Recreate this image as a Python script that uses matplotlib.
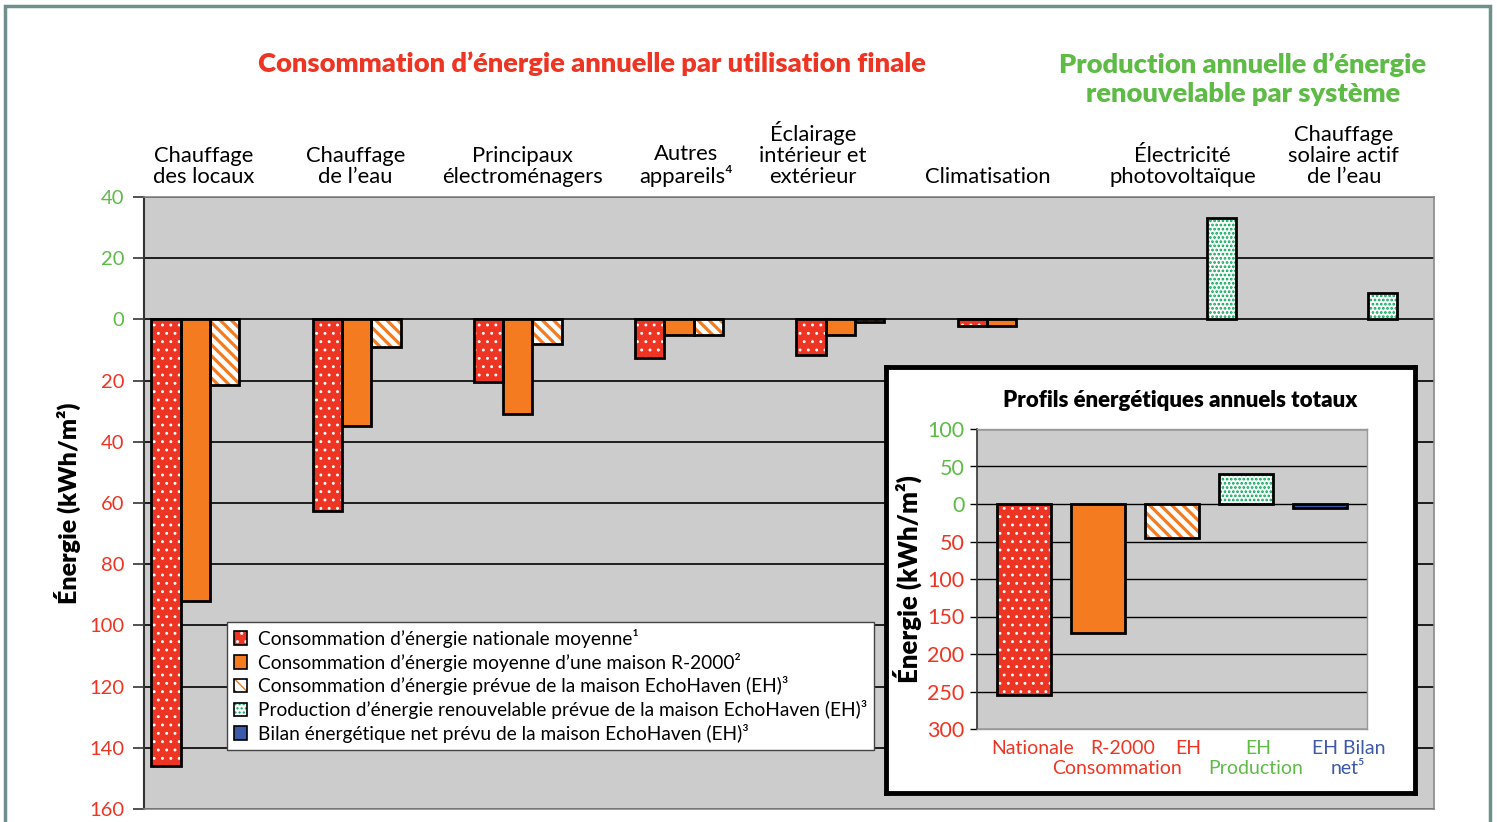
import matplotlib
matplotlib.use('Agg')
import matplotlib.pyplot as plt
from matplotlib.patches import Patch, Rectangle
from matplotlib.legend_handler import HandlerTuple
import numpy as np

plt.rcParams['font.family'] = ['Lato', 'DejaVu Sans']

W, H, DPI = 1497, 822, 100

# ---------------- data ----------------
categories = ["Chauffage\ndes locaux", "Chauffage\nde l’eau", "Principaux\nélectroménagers",
              "Autres\nappareils⁴", "Éclairage\nintérieur et\nextérieur", "Climatisation",
              "Électricité\nphotovoltaïque", "Chauffage\nsolaire actif\nde l’eau"]
national = [-146, -62.5, -20.5, -12.5, -11.5, -2, 0, 0]
r2000 = [-92, -35, -31, -5, -5, -2.3, 0, 0]
eh_cons = [-21.5, -9, -8, -5, -1, 0, 0, 0]
eh_prod = [0, 0, 0, 0, 0, 0, 33, 8.5]
eh_net = [0, 0, 0, 0, 0, 0, 0, 0]

series_names = ["Consommation d’énergie nationale moyenne¹",
                "Consommation d’énergie moyenne d’une maison R-2000²",
                "Consommation d’énergie prévue de la maison EchoHaven (EH)³",
                "Production d’énergie renouvelable prévue de la maison EchoHaven (EH)³",
                "Bilan énergétique net prévu de la maison EchoHaven (EH)³"]

main_ticks = [40, 20, 0, -20, -40, -60, -80, -100, -120, -140, -160]

summary_values = [-255, -172, -45, 40, -5]
inset_ticks = [100, 50, 0, -50, -100, -150, -200, -250, -300]

# ---------------- styles ----------------
RED = '#EE3524'
ORANGE = '#F47B20'
GREEN_D = '#00A651'
BLUE = '#3B5BA9'
GREEN_T = '#5DBB46'
BLUE_T = '#3F58A8'
GRAY_BG = '#CCCCCC'

styles = [
    dict(face=RED, hatch='..', hcol='white', hlw=0.9),
    dict(face=ORANGE, hatch=None, hcol=None, hlw=1.0),
    dict(face='white', hatch='\\\\\\', hcol=ORANGE, hlw=2.3),
    dict(face='white', hatch='....', hcol=GREEN_D, hlw=1.3),
    dict(face=BLUE, hatch=None, hcol=None, hlw=1.0),
]


def _set_hlw(artists, lw):
    for p in artists:
        if hasattr(p, 'set_hatch_linewidth'):
            p.set_hatch_linewidth(lw)


def draw_bars(ax, xs, hs, w, st, lw=2.0):
    xs = np.asarray(xs, float)
    hs = np.asarray(hs, float)
    m = hs != 0
    if not m.any():
        return
    if st['hatch']:
        with plt.rc_context({'hatch.linewidth': st['hlw']}):
            bc = ax.bar(xs[m], hs[m], w, color=st['face'], edgecolor=st['hcol'], hatch=st['hatch'],
                        linewidth=0, zorder=3)
        _set_hlw(bc, st['hlw'])
    else:
        ax.bar(xs[m], hs[m], w, color=st['face'], linewidth=0, zorder=3)
    ax.bar(xs[m], hs[m], w, fill=False, edgecolor='black', linewidth=lw, zorder=4)


def fpx(x, y):
    return x / W, 1 - y / H


def axrect(x0, y0, x1, y1):
    return [x0 / W, 1 - y1 / H, (x1 - x0) / W, (y1 - y0) / H]


fig = plt.figure(figsize=(W / DPI, H / DPI), dpi=DPI)
fig.patch.set_facecolor('white')

# outer frame
fig.patches.append(Rectangle((5 / W, -0.05), (1490 - 5) / W, 1 - 6 / H + 0.05,
                             transform=fig.transFigure, fill=False,
                             edgecolor='#6E8F8B', linewidth=2.5, zorder=0))

# ---------------- main axes ----------------
ax = fig.add_axes(axrect(144, 197, 1434, 809))
ax.set_facecolor(GRAY_BG)
n = len(categories)
x = np.arange(n)
w = 0.182
all_series = [national, r2000, eh_cons, eh_prod, eh_net]
for s, vals in enumerate(all_series):
    draw_bars(ax, x + (s - 2) * w, vals, w, styles[s])

ax.set_xlim(-0.5, n - 0.5)
ax.set_ylim(-160, 40)
ax.set_yticks(main_ticks)
ax.set_yticklabels([f"{abs(t)}" for t in main_ticks], fontsize=14.5)
for t, lab in zip(main_ticks, ax.get_yticklabels()):
    lab.set_color(GREEN_T if t >= 0 else RED)
ax.set_xticks([])
ax.yaxis.grid(True, color='black', linewidth=1.2)
ax.set_axisbelow(True)
ax.tick_params(axis='y', direction='out', length=8, width=1.2, color='#333333', pad=6)
ax.spines['left'].set_color('#333333')
ax.spines['left'].set_linewidth(1.5)
for sp in ['top', 'right', 'bottom']:
    ax.spines[sp].set_color('#888888')
    ax.spines[sp].set_linewidth(1.2)
ax.set_ylabel("Énergie (kWh/m²)", fontsize=18, fontweight='heavy', labelpad=6)

# category labels above the plot
label_offsets = [-0.13, -0.19, -0.155, -0.14, -0.35, -0.27, -0.06, -0.06]
for i, (cat, off) in enumerate(zip(categories, label_offsets)):
    ax.text(i + off, 1 + (197 - 183) / 612, cat, transform=ax.get_xaxis_transform(),
            ha='center', va='baseline', fontsize=15.8, linespacing=1.05, color='black')

fig.text(*fpx(592, 72), "Consommation d’énergie annuelle par utilisation finale", color=RED,
         fontsize=19.6, fontweight='heavy', ha='center', va='baseline')
fig.text(*fpx(1243, 102), "Production annuelle d’énergie\nrenouvelable par système", color=GREEN_T,
         fontsize=19.6, fontweight='heavy', ha='center', va='baseline', linespacing=1.25)

# legend
handles = []
for s in range(5):
    st = styles[s]
    if st['hatch']:
        with plt.rc_context({'hatch.linewidth': st['hlw'] * 0.8}):
            inner = Patch(facecolor=st['face'], edgecolor=st['hcol'], hatch=st['hatch'], linewidth=0)
        _set_hlw([inner], st['hlw'] * 0.8)
        outer = Patch(fill=False, edgecolor='black', linewidth=1.2)
        handles.append((inner, outer))
    else:
        handles.append(Patch(facecolor=st['face'], edgecolor='black', linewidth=1.2))
leg = ax.legend(handles, series_names, loc='upper left',
                bbox_to_anchor=fpx(227, 622), bbox_transform=fig.transFigure,
                handler_map={tuple: HandlerTuple(ndivide=1, pad=0)},
                fontsize=13.8, frameon=True, fancybox=False, edgecolor='#444444', framealpha=1,
                handlelength=0.7, handleheight=0.7, handletextpad=0.55, labelspacing=0.25,
                borderpad=0.35, borderaxespad=0)
leg.get_frame().set_linewidth(1.0)
leg.set_zorder(10)

# ---------------- inset ----------------
box = fig.add_axes(axrect(886, 367, 1415, 793))
box.set_zorder(5)
box.set_facecolor('white')
box.set_xticks([]); box.set_yticks([])
for sp in box.spines.values():
    sp.set_linewidth(3.5)
    sp.set_color('black')

ai = fig.add_axes(axrect(977, 429, 1367, 729))
ai.set_zorder(6)
ai.set_facecolor(GRAY_BG)
xi = np.arange(len(summary_values))
for k, v in enumerate(summary_values):
    draw_bars(ai, [xi[k]], [v], 0.73, styles[k], lw=2.0)
ai.set_xlim(-0.635, 4.635)
ai.set_ylim(-300, 100)
ai.set_yticks(inset_ticks)
ai.set_yticklabels([f"{abs(t)}" for t in inset_ticks], fontsize=15.5)
for t, lab in zip(inset_ticks, ai.get_yticklabels()):
    lab.set_color(GREEN_T if t >= 0 else RED)
ai.set_xticks([])
ai.yaxis.grid(True, color='black', linewidth=1.0)
ai.set_axisbelow(True)
ai.tick_params(axis='y', direction='out', length=5, width=1.0, pad=4)
ai.spines['left'].set_color('#333333')
ai.spines['left'].set_linewidth(1.2)
for sp in ['top', 'right', 'bottom']:
    ai.spines[sp].set_color('#999999')
    ai.spines[sp].set_linewidth(1.0)
ai.set_ylabel("Énergie (kWh/m²)", fontsize=18.5, fontweight='heavy', labelpad=4)
ai.set_title("Profils énergétiques annuels totaux", fontsize=16, fontweight='heavy', pad=16, x=0.52)

inset_labels = [("Nationale", 1033, 748, RED), ("R-2000", 1123, 748, RED), ("EH", 1188, 748, RED),
                ("Consommation", 1117, 768, RED), ("EH", 1258, 748, GREEN_T),
                ("Production", 1256, 768, GREEN_T), ("EH Bilan", 1349, 748, BLUE_T),
                ("net⁵", 1348, 768, BLUE_T)]
for txt, px, py, col in inset_labels:
    t = fig.text(*fpx(px, py), txt, color=col, fontsize=14, ha='center', va='center')
    t.set_zorder(7)

fig.savefig('out.png', dpi=DPI)
